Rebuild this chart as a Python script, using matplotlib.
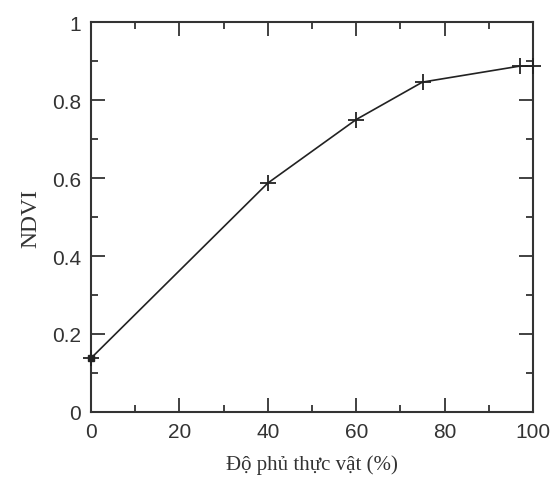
import matplotlib
matplotlib.use("Agg")
import matplotlib.pyplot as plt
from matplotlib.ticker import MultipleLocator

# do phu thuc vat (%) va NDVI
cover = [0, 40, 60, 75, 97, 100]
ndvi = [0.138, 0.587, 0.750, 0.846, 0.887, 0.887]

fig = plt.figure(figsize=(5.54, 4.85), dpi=100)
ax = fig.add_axes([0.1643, 0.1485, 0.7978, 0.804])

ax.plot(cover, ndvi, color="#222222", lw=1.2, marker="+", ms=11, mew=1.3, clip_on=False, zorder=3)
ax.plot(cover[0], ndvi[0], marker="s", ms=4, color="#222222", clip_on=False, zorder=4)

ax.set_xlim(0, 100)
ax.set_ylim(0, 1)
ax.xaxis.set_major_locator(MultipleLocator(20))
ax.xaxis.set_minor_locator(MultipleLocator(10))
ax.yaxis.set_major_locator(MultipleLocator(0.2))
ax.yaxis.set_minor_locator(MultipleLocator(0.1))
ax.set_yticks([0, 0.2, 0.4, 0.6, 0.8, 1.0])
ax.set_yticklabels(["0", "0.2", "0.4", "0.6", "0.8", "1"])

ax.tick_params(which="both", direction="in", top=True, right=True, color="#333333", width=1.3)
ax.tick_params(which="major", length=10, labelsize=15, pad=7, labelcolor="#333333")
ax.tick_params(which="minor", length=5)
for lab in ax.get_xticklabels() + ax.get_yticklabels():
    lab.set_family("Liberation Sans")
for sp in ax.spines.values():
    sp.set_linewidth(1.5)
    sp.set_color("#333333")

ax.set_xlabel("Độ phủ thực vật (%)", family="Liberation Serif", fontsize=15, labelpad=10, color="#333333")
ax.set_ylabel("NDVI", family="Liberation Serif", fontsize=17, labelpad=8, color="#333333")

fig.savefig("out.png", dpi=100)
